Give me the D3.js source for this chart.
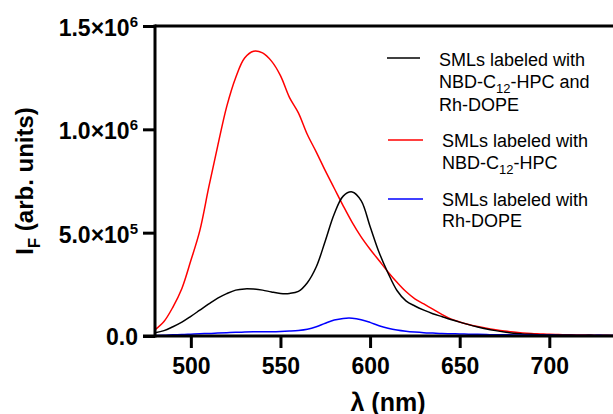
<!DOCTYPE html>
<html>
<head>
<meta charset="utf-8">
<script src="https://cdn.jsdelivr.net/npm/d3@7"></script>
<style>
  html, body { margin: 0; padding: 0; background: #fff; }
  svg { display: block; }
  text { font-family: "Liberation Sans", Arial, sans-serif; }
</style>
</head>
<body>
<svg id="chart" width="613" height="414"></svg>
<script>
// Emission wavelengths (nm)
const wavelength = [
  480, 485, 490, 495, 500, 505, 510, 515, 520, 525,
  530, 535, 540, 545, 550, 555, 560, 565, 570, 575,
  580, 585, 590, 595, 600, 605, 610, 615, 620, 625,
  630, 635, 640, 645, 650, 655, 660, 665, 670, 675,
  680, 685, 690, 695, 700, 705, 710, 715, 720, 725,
  730, 735, 740
];

// Fluorescence intensity, in units of 1e6 (arb. units)
const bothProbes = [
  0.016, 0.026, 0.045, 0.067, 0.095, 0.125, 0.155, 0.183, 0.205, 0.222,
  0.228, 0.227, 0.222, 0.213, 0.206, 0.206, 0.216, 0.258, 0.335, 0.460,
  0.590, 0.677, 0.697, 0.655, 0.530, 0.405, 0.305, 0.220, 0.170, 0.145,
  0.125, 0.108, 0.094, 0.080, 0.067, 0.055, 0.044, 0.034, 0.026, 0.019,
  0.013, 0.010, 0.008, 0.006, 0.005, 0.004, 0.004, 0.003, 0.003, 0.003,
  0.002, 0.002, 0.002
];

const nbdOnly = [
  0.030, 0.070, 0.140, 0.230, 0.365, 0.510, 0.720, 0.920, 1.110, 1.250,
  1.345, 1.378, 1.370, 1.330, 1.260, 1.155, 1.080, 0.975, 0.890, 0.800,
  0.715, 0.630, 0.550, 0.480, 0.420, 0.365, 0.310, 0.260, 0.215, 0.180,
  0.155, 0.130, 0.105, 0.083, 0.068, 0.056, 0.046, 0.037, 0.030, 0.024,
  0.019, 0.015, 0.012, 0.010, 0.008, 0.007, 0.006, 0.005, 0.005, 0.004,
  0.004, 0.003, 0.003
];

const rhOnly = [
  0.003, 0.004, 0.006, 0.007, 0.009, 0.011, 0.012, 0.014, 0.016, 0.018,
  0.019, 0.020, 0.021, 0.021, 0.022, 0.024, 0.027, 0.033, 0.045, 0.062,
  0.077, 0.085, 0.086, 0.079, 0.066, 0.050, 0.038, 0.029, 0.023, 0.019,
  0.016, 0.014, 0.012, 0.011, 0.010, 0.009, 0.008, 0.007, 0.006, 0.006,
  0.005, 0.005, 0.004, 0.004, 0.004, 0.003, 0.003, 0.003, 0.003, 0.003,
  0.003, 0.002, 0.002
];

const seriesValues = [bothProbes, nbdOnly, rhOnly];
const seriesColors = ["#000000", "#ff0000", "#0000ff"];

// Legend entries: lines of text, with optional subscript segments
const legendRows = [
  [["SMLs labeled with"], ["NBD-C", "12", "-HPC and"], ["Rh-DOPE"]],
  [["SMLs labeled with"], ["NBD-C", "12", "-HPC"]],
  [["SMLs labeled with"], ["Rh-DOPE"]]
];

// Tick labels
const xTicks = [500, 550, 600, 650, 700];
const yTicks = [0, 0.5, 1.0, 1.5];
const yTickMantissa = ["0.0", "5.0\u00d710", "1.0\u00d710", "1.5\u00d710"];
const yTickExponent = ["", "5", "6", "6"];

const svg = d3.select("#chart");

const x = d3.scaleLinear().domain([480, 740]).range([155, 621]);
const y = d3.scaleLinear().domain([0, 1.5]).range([336, 26]);

// Frame top
svg.append("line")
  .attr("x1", x(480)).attr("x2", x(740))
  .attr("y1", y(1.5)).attr("y2", y(1.5))
  .attr("stroke", "#000").attr("stroke-width", 3);

// Spectra
svg.append("defs").append("clipPath").attr("id", "plot")
  .append("rect")
  .attr("x", x(480)).attr("y", y(1.5))
  .attr("width", x(740) - x(480)).attr("height", y(0) - y(1.5));

const line = d3.line()
  .x((d, i) => x(wavelength[i]))
  .y(d => y(d))
  .curve(d3.curveCatmullRom.alpha(0.5));

const plot = svg.append("g").attr("clip-path", "url(#plot)");
// red first, then black, then blue on top
[1, 0, 2].forEach(k => {
  plot.append("path")
    .datum(seriesValues[k])
    .attr("d", line)
    .attr("fill", "none")
    .attr("stroke", seriesColors[k])
    .attr("stroke-width", 1.5)
    .attr("stroke-linejoin", "round");
});

// X axis
const xAxis = svg.append("g")
  .attr("transform", `translate(0,${y(0)})`)
  .call(d3.axisBottom(x).tickValues(xTicks).tickSize(12).tickSizeOuter(0).tickFormat(d3.format("d")));
xAxis.select(".domain").attr("stroke-width", 3).attr("d", `M${x(480) - 12},0H${x(740)}`);
xAxis.selectAll(".tick line").attr("stroke-width", 3);
xAxis.selectAll(".tick text")
  .attr("y", 38).attr("dy", 0)
  .style("font-size", "23px").style("font-weight", "bold")
  .style("font-family", "'Liberation Sans', Arial, sans-serif")
  .attr("fill", "#000");

// Y axis
const yAxis = svg.append("g")
  .attr("transform", `translate(${x(480)},0)`)
  .call(d3.axisLeft(y).tickValues(yTicks).tickSize(12).tickSizeOuter(0).tickFormat(""));
yAxis.select(".domain").attr("stroke-width", 3).attr("d", `M0,${y(0) + 1.5}V${y(1.5) - 1.5}`);
yAxis.selectAll(".tick line").attr("stroke-width", 3);
yAxis.selectAll(".tick").each(function(d, i) {
  const t = d3.select(this).append("text")
    .attr("x", -17)
    .attr("y", yTickExponent[i] ? 9.5 : 8)
    .attr("text-anchor", "end")
    .attr("fill", "#000")
    .style("font-size", "23px").style("font-weight", "bold");
  t.append("tspan").text(yTickMantissa[i]);
  if (yTickExponent[i]) {
    t.append("tspan").attr("dy", -9).style("font-size", "15px").text(yTickExponent[i]);
  }
});

// Axis titles
svg.append("text")
  .attr("x", (x(480) + x(740)) / 2)
  .attr("y", 411)
  .attr("text-anchor", "middle")
  .style("font-size", "25px").style("font-weight", "bold")
  .text("\u03bb (nm)");

const yTitle = svg.append("text")
  .attr("transform", `translate(33,${(y(0) + y(1.5)) / 2}) rotate(-90)`)
  .attr("text-anchor", "middle")
  .style("font-size", "24px").style("font-weight", "bold");
yTitle.append("tspan").text("I");
yTitle.append("tspan").attr("dy", 7).style("font-size", "17px").text("F");
yTitle.append("tspan").attr("dy", -7).text(" (arb. units)");

// Legend
const legendLineY = [58, 140, 199];
const legendLineX = [[387, 420], [388, 423], [388, 423]];
const legendTextX = [439, 442, 442];
const legendBaselines = [[66, 88, 111], [147, 169], [206, 227]];

legendRows.forEach((rows, k) => {
  svg.append("line")
    .attr("x1", legendLineX[k][0]).attr("x2", legendLineX[k][1])
    .attr("y1", legendLineY[k]).attr("y2", legendLineY[k])
    .attr("stroke", seriesColors[k]).attr("stroke-width", 1.5);
  rows.forEach((segs, r) => {
    const t = svg.append("text")
      .attr("x", legendTextX[k])
      .attr("y", legendBaselines[k][r])
      .attr("fill", "#000")
      .style("font-size", "18px");
    segs.forEach((s, j) => {
      const sp = t.append("tspan").text(s);
      if (j === 1) sp.attr("dy", 5).style("font-size", "13px");
      if (j === 2) sp.attr("dy", -5);
    });
  });
});
</script>
</body>
</html>
